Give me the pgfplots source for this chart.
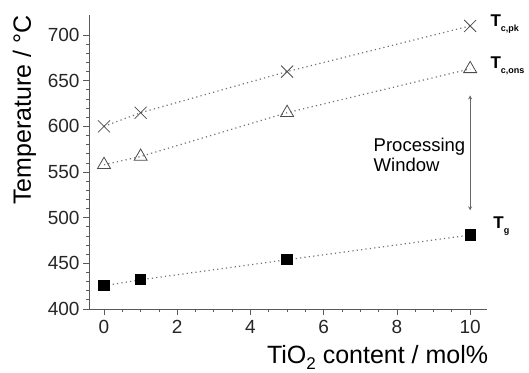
\documentclass[border=0pt]{standalone}
\usepackage{fontspec}
\setmainfont{Liberation Sans}
\usepackage{pgfplots}
\pgfplotsset{compat=1.18}
\newcommand{\sublab}[1]{\raisebox{-5pt}{\fontsize{9}{9}\selectfont\bfseries #1}}
\begin{document}
\begin{tikzpicture}[x=1pt,y=1pt]
\useasboundingbox (0,0) rectangle (529,372);
\begin{axis}[
 at={(89pt,63pt)}, anchor=south west,
 scale only axis, width=398pt, height=294pt,
 xmin=-0.41, xmax=10.46, ymin=400, ymax=722,
 axis lines*=left,
 axis line style={draw=black!65, line width=1pt},
 xtick={0,2,4,6,8,10}, ytick={400,450,...,700},
 minor x tick num=3, minor y tick num=4,
 tick align=outside, major tick length=6pt, minor tick length=3pt,
 tick style={black!65, line width=0.8pt},
 /pgf/number format/assume math mode=true,
 ticklabel style={font=\fontsize{19}{21}\selectfont, text=black!85},
 xticklabel style={yshift=-2pt},
 xlabel={TiO\raisebox{-6pt}{\fontsize{17}{17}\selectfont 2} content / mol\%},
 ylabel={Temperature / °C},
 xlabel style={font=\fontsize{25}{28}\selectfont, at={(axis description cs:0.725,-0.184)}, anchor=base},
 ylabel style={font=\fontsize{25}{28}\selectfont, at={(axis description cs:-0.146,0.677)}, anchor=base},
 clip=false,
]
\addplot[black!55, dash pattern=on 1.2pt off 3.2pt, line width=1.2pt, mark=x, mark size=8.5pt,
  mark options={solid, black!70, line width=0.8pt}]
  coordinates {(0,600) (1,615) (5,660) (10,710)};
\addplot[black!55, dash pattern=on 1.2pt off 3.2pt, line width=1.2pt, mark=triangle, mark size=7.5pt,
  mark options={solid, black!70, line width=0.8pt}]
  coordinates {(0,558) (1,567) (5,615) (10,663)};
\addplot[black!55, dash pattern=on 1.2pt off 3.2pt, line width=1.2pt, mark=square*, mark size=5pt,
  mark options={solid, black, fill=black}]
  coordinates {(0,425.5) (1,432) (5,454) (10,481)};
\draw[<->, >=stealth, black!60, line width=0.8pt] (axis cs:10,634) -- (axis cs:10,508);
\node[anchor=west, align=left, font=\fontsize{18.5}{20.5}\selectfont] at (axis cs:7.27,569) {Processing\\Window};
\node[anchor=west, font=\bfseries\fontsize{17}{17}\selectfont, inner sep=0pt] at (axis cs:10.55,712) {T\sublab{c,pk}};
\node[anchor=west, font=\bfseries\fontsize{17}{17}\selectfont, inner sep=0pt] at (axis cs:10.55,666) {T\sublab{c,ons}};
\node[anchor=west, font=\bfseries\fontsize{17}{17}\selectfont, inner sep=0pt] at (axis cs:10.63,491) {T\sublab{g}};
\end{axis}
\end{tikzpicture}
\end{document}
